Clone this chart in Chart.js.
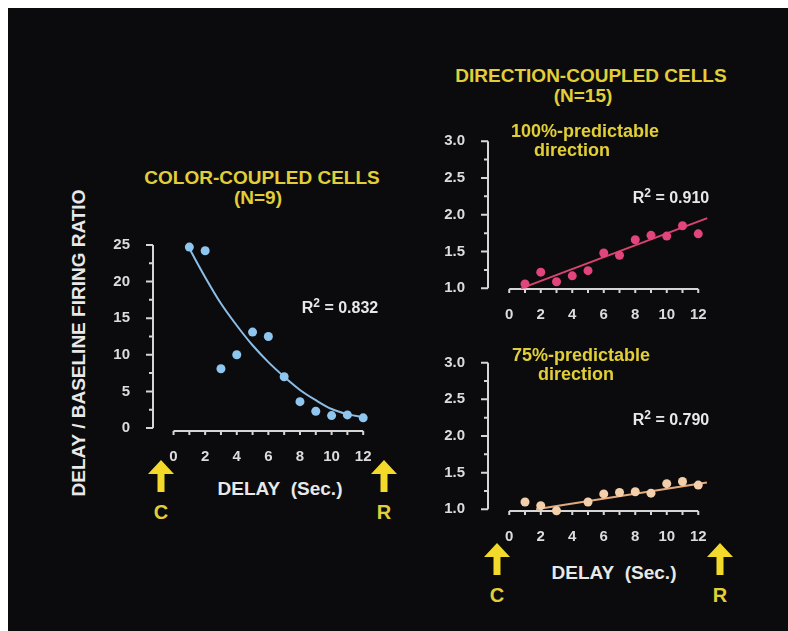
<!DOCTYPE html>
<html>
<head>
<meta charset="utf-8">
<script src="https://cdn.jsdelivr.net/npm/chart.js@4.4.1/dist/chart.umd.min.js"></script>
<style>
  body { margin: 0; background: #fff; width: 788px; height: 631px; overflow: hidden; }
  #stage { position: absolute; left: 8px; top: 8px; width: 790px; height: 630px; background: #0b0b0d; }
  canvas { position: absolute; }
  .t { position: absolute; transform: translate(-50%, -50%); white-space: nowrap; line-height: 1;
       font-family: "Liberation Sans", Arial, sans-serif; font-weight: bold; }
  .yel { color: #e2cf38; }
  .wht { color: #e8e8e8; }
  svg { position: absolute; }
</style>
</head>
<body>
<div id="stage"></div>
<canvas id="colorChart"></canvas>
<canvas id="dir100Chart"></canvas>
<canvas id="dir75Chart"></canvas>

<script>
// ---- data ----
const delays = [1, 2, 3, 4, 5, 6, 7, 8, 9, 10, 11, 12];

// color-coupled cells (N=9), delay / baseline firing ratio
const colorRatio = [24.7, 24.2, 8.1, 10.0, 13.1, 12.5, 7.0, 3.6, 2.3, 1.7, 1.8, 1.4];
const colorFit = [24.5, 20.6, 17.0, 14.0, 11.3, 9.0, 7.0, 5.2, 3.8, 2.6, 1.9, 1.5];

// direction-coupled cells (N=15)
const dir100Ratio = [1.06, 1.22, 1.09, 1.17, 1.24, 1.48, 1.45, 1.66, 1.72, 1.71, 1.85, 1.74];
const dir100FitX = [0.75, 12.57];
const dir100FitY = [1.0, 1.954];

const dir75Ratio = [1.10, 1.05, 0.98, null, 1.10, 1.21, 1.23, 1.24, 1.22, 1.35, 1.38, 1.33];
const dir75FitX = [1.7, 12.55];
const dir75FitY = [1.0, 1.365];

// tick labels
const xTicks = [0, 2, 4, 6, 8, 10, 12];
const colorYTicks = [0, 5, 10, 15, 20, 25];
const dirYTicks = [1.0, 1.5, 2.0, 2.5, 3.0];

// ---- hand-drawn looking axes (detached x axis, minor ticks) ----
const handAxes = {
  id: 'handAxes',
  beforeDatasetsDraw(chart, args, o) {
    const { ctx, chartArea, scales: { x, y } } = chart;
    ctx.save();
    ctx.strokeStyle = '#d6d6d6';
    ctx.lineWidth = 2;
    ctx.beginPath();
    // y axis with major + half-step minor ticks
    const yt = o.yTicks;
    const ax = chartArea.left;
    ctx.moveTo(ax, y.getPixelForValue(yt[0]));
    ctx.lineTo(ax, y.getPixelForValue(yt[yt.length - 1]));
    yt.forEach((v, i) => {
      const py = y.getPixelForValue(v);
      ctx.moveTo(ax, py); ctx.lineTo(ax - 7, py);
      if (i < yt.length - 1) {
        const pm = y.getPixelForValue((v + yt[i + 1]) / 2);
        ctx.moveTo(ax, pm); ctx.lineTo(ax - 4, pm);
      }
    });
    // x axis from first to last tick, a small tick every second
    const xt = o.xTicks;
    const ay = chartArea.bottom;
    ctx.moveTo(x.getPixelForValue(xt[0]), ay);
    ctx.lineTo(x.getPixelForValue(xt[xt.length - 1]), ay);
    for (let v = xt[0]; v <= xt[xt.length - 1]; v++) {
      const px = x.getPixelForValue(v);
      ctx.moveTo(px, ay); ctx.lineTo(px, ay + 4);
    }
    ctx.stroke();
    ctx.restore();
  }
};

const tickFont = { family: 'Liberation Sans', weight: 'bold', size: 15 };

// area = where the plot rectangle sits on the page
function makeChart(id, area, xr, yr, yTicks, yFmt, datasets) {
  const padL = 60, padT = 20, padR = 30, padB = 40;
  const cv = document.getElementById(id);
  cv.width = area.right - area.left + padL + padR;
  cv.height = area.bottom - area.top + padT + padB;
  cv.style.left = (area.left - padL) + 'px';
  cv.style.top = (area.top - padT) + 'px';

  return new Chart(cv, {
    type: 'scatter',
    data: { datasets: datasets },
    options: {
      responsive: false,
      animation: false,
      devicePixelRatio: 1,
      layout: { padding: { top: padT, right: padR, left: 0, bottom: 0 } },
      plugins: {
        legend: { display: false },
        tooltip: { enabled: false },
        handAxes: { xTicks: xTicks, yTicks: yTicks }
      },
      scales: {
        x: {
          type: 'linear', min: xr[0], max: xr[1],
          grid: { display: false }, border: { display: false },
          afterBuildTicks: s => { s.ticks = xTicks.map(v => ({ value: v })); },
          afterFit: s => { s.height = padB; },
          ticks: { color: '#dcdcdc', font: tickFont, padding: 9, maxRotation: 0, autoSkip: false }
        },
        y: {
          type: 'linear', min: yr[0], max: yr[1],
          grid: { display: false }, border: { display: false },
          afterBuildTicks: s => { s.ticks = yTicks.map(v => ({ value: v })); },
          afterFit: s => { s.width = padL; },
          ticks: { color: '#dcdcdc', font: tickFont, padding: 15, callback: yFmt }
        }
      }
    },
    plugins: [handAxes]
  });
}

function pts(xs, ys) {
  return xs.map((v, i) => ({ x: v, y: ys[i] })).filter(p => p.y !== null);
}

makeChart('colorChart', { left: 153, right: 379, top: 234, bottom: 431 },
  [-1.3, 13], [-0.4, 25.94], colorYTicks, v => v,
  [
    { data: pts(delays, colorRatio), backgroundColor: '#8ec6ef', borderWidth: 0,
      pointRadius: 4.5, clip: false, order: 1 },
    { data: pts(delays, colorFit), showLine: true, borderColor: '#8cbde6', borderWidth: 2,
      pointRadius: 0, cubicInterpolationMode: 'monotone', clip: false, order: 2 }
  ]);

makeChart('dir100Chart', { left: 488, right: 714, top: 130, bottom: 289 },
  [-1.35, 13], [0.991, 3.097], dirYTicks, v => v.toFixed(1),
  [
    { data: pts(delays, dir100Ratio), backgroundColor: '#e2447c', borderWidth: 0,
      pointRadius: 4.5, clip: false, order: 1 },
    { data: pts(dir100FitX, dir100FitY), showLine: true, borderColor: '#d8446f', borderWidth: 2,
      pointRadius: 0, clip: false, order: 2 }
  ]);

makeChart('dir75Chart', { left: 488, right: 714, top: 351, bottom: 511 },
  [-1.35, 13], [0.977, 3.105], dirYTicks, v => v.toFixed(1),
  [
    { data: pts(delays, dir75Ratio), backgroundColor: '#f3d0ab', borderWidth: 0,
      pointRadius: 4.5, clip: false, order: 1 },
    { data: pts(dir75FitX, dir75FitY), showLine: true, borderColor: '#e3ab7c', borderWidth: 2,
      pointRadius: 0, clip: false, order: 2 }
  ]);

// ---- text and arrows ----
const R2 = v => 'R<span style="font-size:12px;position:relative;top:-6px">2</span> = ' + v;
const labels = [
  ['COLOR-COUPLED CELLS', 262, 177, 19, 'yel'],
  ['(N=9)', 258, 197, 19, 'yel'],
  ['DIRECTION-COUPLED CELLS', 591, 75, 19, 'yel'],
  ['(N=15)', 583, 95, 19, 'yel'],
  ['100%-predictable', 585, 131, 18, 'yel'],
  ['direction', 572, 150, 18, 'yel'],
  ['75%-predictable', 581, 355, 18, 'yel'],
  ['direction', 576, 374, 18, 'yel'],
  [R2('0.832'), 340, 308, 16, 'wht'],
  [R2('0.910'), 671, 198, 16, 'wht'],
  [R2('0.790'), 671, 420, 16, 'wht'],
  ['DELAY&nbsp;&nbsp;(Sec.)', 280, 488, 19, 'wht'],
  ['DELAY&nbsp;&nbsp;(Sec.)', 614, 572, 19, 'wht'],
  ['C', 161, 512, 20, 'yel'],
  ['R', 384, 512, 20, 'yel'],
  ['C', 497, 595, 20, 'yel'],
  ['R', 720, 595, 20, 'yel']
];
labels.forEach(([txt, x, y, size, cls]) => {
  const d = document.createElement('div');
  d.className = 't ' + cls;
  d.innerHTML = txt;
  d.style.left = x + 'px';
  d.style.top = y + 'px';
  d.style.fontSize = size + 'px';
  document.body.appendChild(d);
});

const yLab = document.createElement('div');
yLab.className = 't wht';
yLab.textContent = 'DELAY / BASELINE FIRING RATIO';
yLab.style.cssText += 'left:78px;top:343px;font-size:19px;transform:translate(-50%,-50%) rotate(-90deg);';
document.body.appendChild(yLab);

[[161, 460], [384, 460], [497, 543], [720, 543]].forEach(([cx, top]) => {
  const ns = 'http://www.w3.org/2000/svg';
  const s = document.createElementNS(ns, 'svg');
  s.setAttribute('width', 26); s.setAttribute('height', 32);
  s.style.left = (cx - 13) + 'px';
  s.style.top = top + 'px';
  const p = document.createElementNS(ns, 'path');
  p.setAttribute('d', 'M13 0 L26 14 L16.5 14 L16.5 32 L9.5 32 L9.5 14 L0 14 Z');
  p.setAttribute('fill', '#f2d92a');
  s.appendChild(p);
  document.body.appendChild(s);
});
</script>
</body>
</html>
